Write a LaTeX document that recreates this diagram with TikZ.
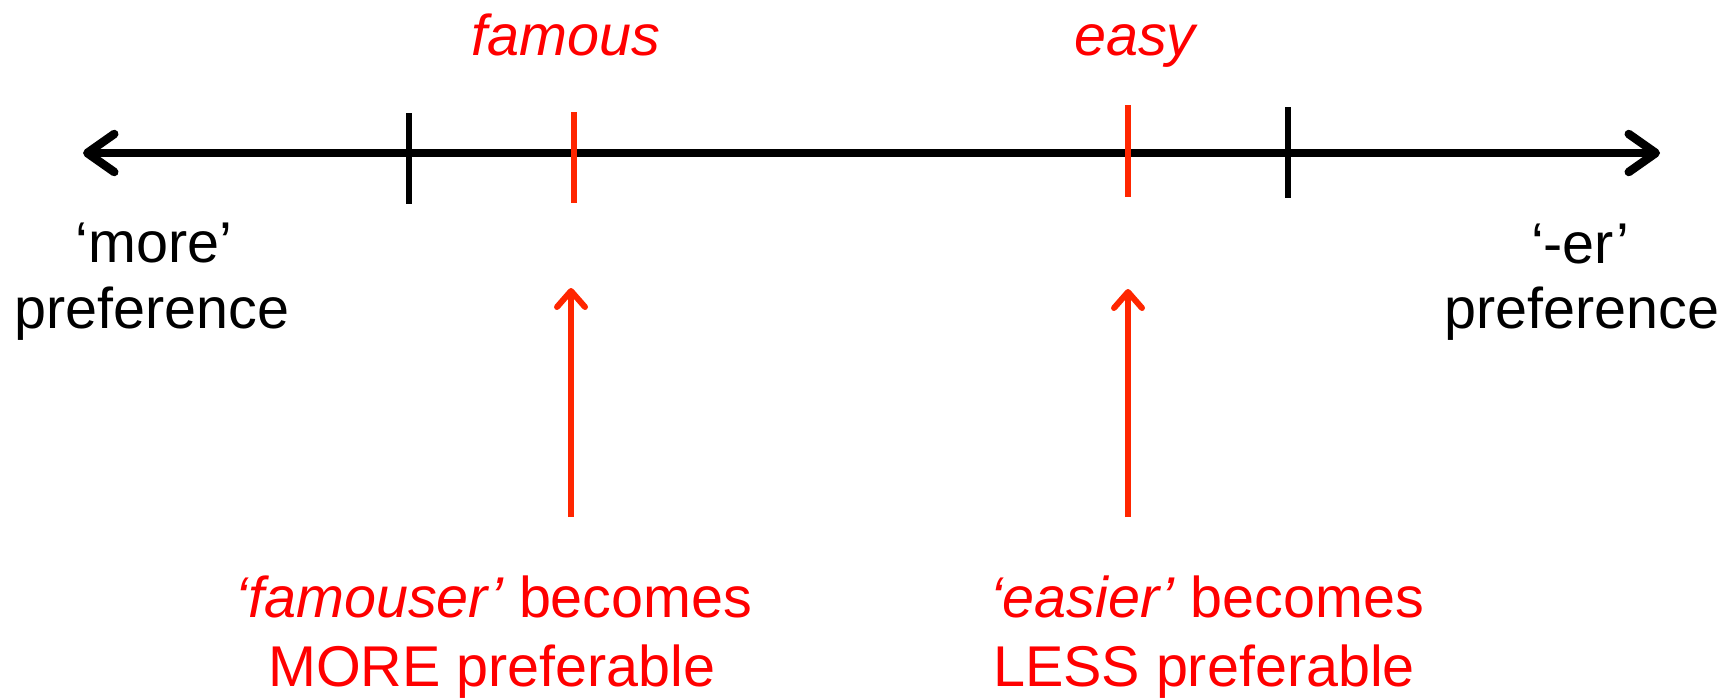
\documentclass[tikz,border=0pt]{standalone}
\usepackage{fontspec}
\setmainfont{Liberation Sans}
\usetikzlibrary{arrows.meta}
\definecolor{linered}{RGB}{255,38,0}
\definecolor{textred}{RGB}{255,0,0}
\tikzset{
  lbl/.style={inner sep=0pt, anchor=base, font=\fontsize{57.5}{67}\selectfont},
  redlbl/.style={lbl, text=textred},
  axis/.style={line width=8.5pt, black, line cap=round,
    {Straight Barb[length=27pt,width=38pt,line cap=round,line join=round]}-{Straight Barb[length=27pt,width=38pt,line cap=round,line join=round]}},
  blacktick/.style={line width=5.5pt, black},
  redtick/.style={line width=5.5pt, linered},
  redarrow/.style={line width=6pt, linered,
    -{Straight Barb[length=16pt,width=28pt,line cap=round,line join=round]}}
}
\begin{document}
\begin{tikzpicture}[x=1pt,y=-1pt]
\useasboundingbox (0,0) rectangle (1734,699);
% axis
\coordinate (axL) at (83,153);
\coordinate (axR) at (1660,153);
\draw[axis] (axL) -- (axR);
% ticks
\coordinate (bt1a) at (409,113); \coordinate (bt1b) at (409,204);
\coordinate (bt2a) at (1288,107); \coordinate (bt2b) at (1288,198);
\coordinate (rt1a) at (574,112); \coordinate (rt1b) at (574,203);
\coordinate (rt2a) at (1128,105); \coordinate (rt2b) at (1128,197);
\draw[blacktick] (bt1a) -- (bt1b);
\draw[blacktick] (bt2a) -- (bt2b);
\draw[redtick] (rt1a) -- (rt1b);
\draw[redtick] (rt2a) -- (rt2b);
% top labels
\node[redlbl] (famous) at (566,55) {\itshape famous};
\node[redlbl] (easy) at (1135,55) {\itshape easy};
% side labels
\node[lbl] (more1) at (154,262) {‘more’};
\node[lbl] (more2) at (152,328) {preference};
\node[lbl] (er1) at (1580,263) {‘-er’};
\node[lbl] (er2) at (1582,328) {preference};
% bottom labels
\node[redlbl] (fam1) at (494,617) {\itshape ‘famouser’\upshape{} becomes};
\node[redlbl] (fam2) at (492,686) {MORE preferable};
\node[redlbl] (eas1) at (1207,617) {\itshape ‘easier’\upshape{} becomes};
\node[redlbl] (eas2) at (1204,686) {LESS preferable};
% red arrows
\coordinate (a1s) at (571,517); \coordinate (a1e) at (571,288);
\coordinate (a2s) at (1128,517); \coordinate (a2e) at (1128,289);
\draw[redarrow] (a1s) -- (a1e);
\draw[redarrow] (a2s) -- (a2e);
\end{tikzpicture}
\end{document}
